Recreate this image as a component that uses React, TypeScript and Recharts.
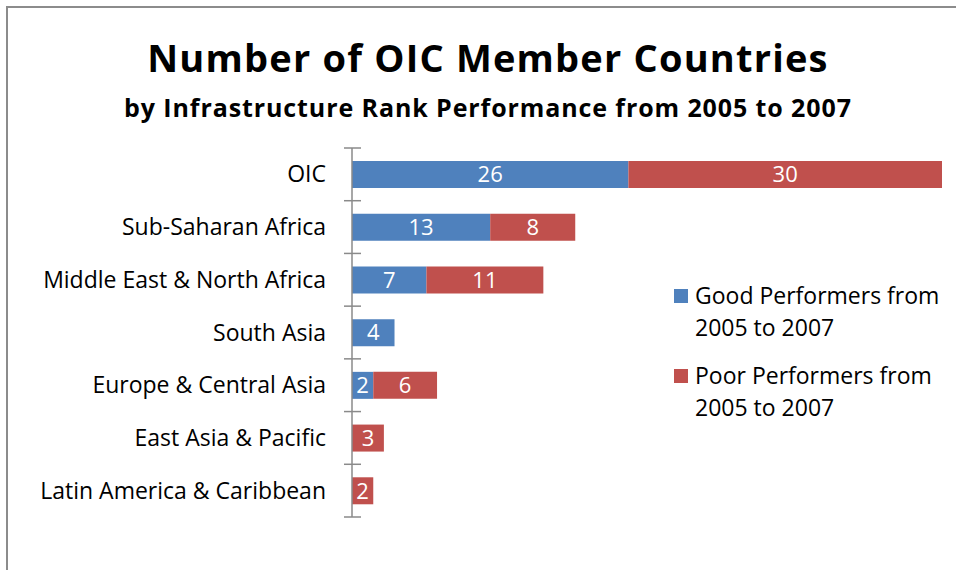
import { BarChart, Bar, XAxis, YAxis, LabelList } from "recharts";

const categories = [
  "OIC",
  "Sub-Saharan Africa",
  "Middle East & North Africa",
  "South Asia",
  "Europe & Central Asia",
  "East Asia & Pacific",
  "Latin America & Caribbean"
];
const goodPerformers = [26, 13, 7, 4, 2, 0, 0];
const poorPerformers = [30, 8, 11, 0, 6, 3, 2];
const seriesNames = ["Good Performers from 2005 to 2007", "Poor Performers from 2005 to 2007"];
const seriesColors = ["#4F81BD", "#C0504D"];

const data = categories.map((name, i) => ({
  name,
  good: goodPerformers[i],
  poor: poorPerformers[i]
}));

const FONT = "'Open Sans', Lato, sans-serif";
const PLOT_TOP = 148;
const PLOT_BOTTOM = 517;
const BAND = (PLOT_BOTTOM - PLOT_TOP) / categories.length;

function CategoryTick(props: any) {
  const { y, payload, index } = props;
  const isLast = index === categories.length - 1;
  return (
    <g>
      <line x1={344} x2={361} y1={y - BAND / 2} y2={y - BAND / 2} stroke="#8a8a8a" strokeWidth={1.5} />
      {isLast && (
        <line x1={344} x2={361} y1={y + BAND / 2} y2={y + BAND / 2} stroke="#8a8a8a" strokeWidth={1.5} />
      )}
      <text x={326} y={y} dy={8} textAnchor="end" fontSize={23} fill="#000" fontFamily={FONT}>
        {payload.value}
      </text>
    </g>
  );
}

const hideZero = (v: any) => (Number(v) ? v : "");

export default function App() {
  return (
    <div
      style={{
        position: "absolute",
        left: 0,
        top: 0,
        width: 956,
        height: 570,
        background: "#fff",
        overflow: "hidden",
        fontFamily: FONT
      }}
    >
      <div
        style={{
          position: "absolute",
          left: 6,
          top: 6,
          width: 1000,
          height: 600,
          borderLeft: "2px solid #8c8c8c",
          borderTop: "2px solid #8c8c8c"
        }}
      />
      <div
        style={{
          position: "absolute",
          left: 0,
          width: 976,
          top: 35,
          textAlign: "center",
          fontWeight: 700,
          fontSize: 38,
          letterSpacing: 1.2,
          lineHeight: "44px"
        }}
      >
        Number of OIC Member Countries
      </div>
      <div
        style={{
          position: "absolute",
          left: 0,
          width: 976,
          top: 92,
          textAlign: "center",
          fontWeight: 700,
          fontSize: 25,
          letterSpacing: 0.9,
          lineHeight: "30px"
        }}
      >
        by Infrastructure Rank Performance from 2005 to 2007
      </div>

      <div style={{ position: "absolute", left: 0, top: 0 }}>
        <BarChart
          width={956}
          height={570}
          data={data}
          layout="vertical"
          margin={{ top: PLOT_TOP, right: 14, bottom: 570 - PLOT_BOTTOM, left: 0 }}
        >
          <XAxis type="number" domain={[0, 55.5]} allowDataOverflow hide />
          <YAxis
            type="category"
            dataKey="name"
            width={352}
            axisLine={{ stroke: "#8a8a8a", strokeWidth: 1.5 }}
            tickLine={false}
            tick={<CategoryTick />}
            interval={0}
          />
          <Bar dataKey="good" stackId="a" fill={seriesColors[0]} barSize={27} isAnimationActive={false}>
            <LabelList
              dataKey="good"
              position="center"
              fill="#fff"
              fontSize={22}
              fontFamily={FONT}
              formatter={hideZero}
            />
          </Bar>
          <Bar dataKey="poor" stackId="a" fill={seriesColors[1]} barSize={27} isAnimationActive={false}>
            <LabelList
              dataKey="poor"
              position="center"
              fill="#fff"
              fontSize={22}
              fontFamily={FONT}
              formatter={hideZero}
            />
          </Bar>
        </BarChart>
      </div>

      {seriesNames.map((name, i) => (
        <div
          key={name}
          style={{
            position: "absolute",
            left: 674,
            top: 279 + i * 80,
            width: 282,
            display: "flex",
            alignItems: "flex-start"
          }}
        >
          <div
            style={{
              width: 14,
              height: 14,
              background: seriesColors[i],
              marginTop: 10,
              marginRight: 7,
              flexShrink: 0
            }}
          />
          <div style={{ fontSize: 23, lineHeight: "32px", width: 261, whiteSpace: "nowrap" }}>
            {name.replace(" 2005", "\n2005")
              .split("\n")
              .map((line) => (
                <div key={line}>{line}</div>
              ))}
          </div>
        </div>
      ))}
    </div>
  );
}
